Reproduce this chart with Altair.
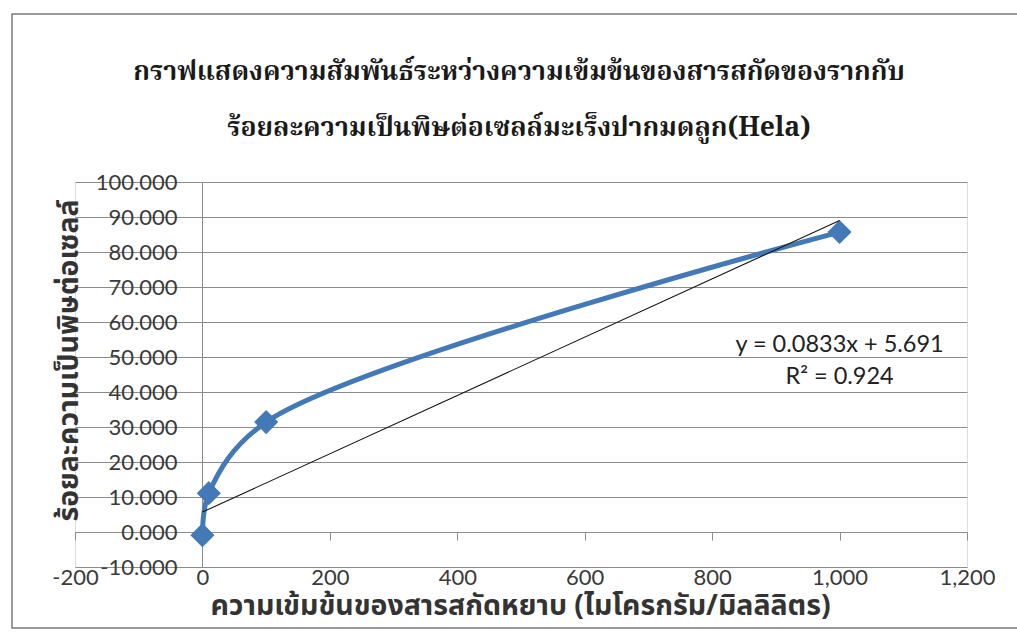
import altair as alt
import pandas as pd

# Concentration of crude root extract (µg/mL) vs. % cytotoxicity on HeLa cells
concentration = [0, 10, 100, 1000]
cytotoxicity = [-0.9, 11.1, 31.4, 85.7]

# Linear trendline as reported: y = 0.0833x + 5.691, R² = 0.924
slope = 0.0833
intercept = 5.691
trend_x = [0, 1000]
trend_y = [slope * v + intercept for v in trend_x]

eq_lines = ["y = 0.0833x + 5.691", "R² = 0.924"]
eq_pos = {"x": 1000, "y": 53.5}

x_ticks = [-200, 0, 200, 400, 600, 800, 1000, 1200]
y_ticks = [-10, 0, 10, 20, 30, 40, 50, 60, 70, 80, 90, 100]

title_lines = [
    "กราฟแสดงความสัมพันธ์ระหว่างความเข้มข้นของสารสกัดของรากกับ",
    "ร้อยละความเป็นพิษต่อเซลล์มะเร็งปากมดลูก(Hela)",
]
x_title = "ความเข้มข้นของสารสกัดหยาบ (ไมโครกรัม/มิลลิลิตร)"
y_title = "ร้อยละความเป็นพิษต่อเซลล์"

THAI_SANS = "Noto Sans Thai, Noto Sans, DejaVu Sans, sans-serif"
THAI_SERIF = "Noto Serif Thai, Noto Serif, DejaVu Serif, serif"
NUM_FONT = "Lato"
GRID = "#8c8c8c"
BLUE = "#4479b8"

points = pd.DataFrame({"conc": concentration, "tox": cytotoxicity})
trend = pd.DataFrame({"conc": trend_x, "tox": trend_y})
eq = pd.DataFrame({"conc": [eq_pos["x"]], "tox": [eq_pos["y"]], "label": [eq_lines]})
heading = pd.DataFrame({"label": [title_lines]})

x_scale = alt.Scale(domain=[-200, 1200], nice=False, zero=False)
y_scale = alt.Scale(domain=[-10, 100], nice=False, zero=False)

x_axis = alt.Axis(
    values=x_ticks, tickCount=20, format=",d", grid=False, offset=-35,
    labelOverlap=False, labelFlush=False,
    domainColor=GRID, tickColor=GRID, tickSize=8,
    labelFont=NUM_FONT, labelFontSize=22, labelColor="#3a3a3a", labelPadding=27,
    title=x_title, titleFont=THAI_SANS, titleFontSize=28.5, titleFontWeight="bold",
    titleColor="#333333", titleX=445, titleY=73, titleBaseline="middle",
)
y_axis = alt.Axis(
    values=y_ticks, tickCount=30, format=".3f", grid=True, gridColor=GRID, gridWidth=1,
    offset=-127, domainColor=GRID, ticks=False, labelOverlap=False, labelFlush=False,
    labelFont=NUM_FONT, labelFontSize=22, labelColor="#3a3a3a", labelPadding=25,
    title=y_title, titleFont=THAI_SANS, titleFontSize=28.5, titleFontWeight="bold",
    titleColor="#333333", titleX=-134, titleY=178, titleBaseline="middle", titleAngle=270,
)

base = alt.Chart(points).encode(
    x=alt.X("conc:Q", scale=x_scale, axis=x_axis),
    y=alt.Y("tox:Q", scale=y_scale, axis=y_axis),
)

series_line = base.mark_line(color=BLUE, strokeWidth=5, interpolate="catmull-rom")
series_pts = base.mark_point(shape="diamond", filled=True, size=580, color=BLUE, opacity=1)

trend_line = alt.Chart(trend).mark_line(color="#111111", strokeWidth=1.1).encode(
    x=alt.X("conc:Q", scale=x_scale), y=alt.Y("tox:Q", scale=y_scale)
)

eq_text = alt.Chart(eq).mark_text(
    font=NUM_FONT, fontSize=23.5, color="#222222", lineHeight=32, align="center", baseline="middle"
).encode(x=alt.X("conc:Q", scale=x_scale), y=alt.Y("tox:Q", scale=y_scale), text="label")

# two-line chart heading above the plot
title_text = alt.Chart(heading).mark_text(
    font=THAI_SERIF, fontSize=26.5, fontWeight="bold", color="#1a1a1a",
    lineHeight=56, align="center", baseline="middle", clip=False,
).encode(x=alt.value(444), y=alt.value(-110), text="label")

# outer chart frame
frame = alt.Chart(heading).mark_rect(
    fill=None, stroke="#7a7a7a", strokeWidth=1.5, clip=False
).encode(x=alt.value(-63), x2=alt.value(980), y=alt.value(-168), y2=alt.value(446))

chart = alt.layer(frame, title_text, series_line, series_pts, trend_line, eq_text).properties(
    width=892, height=385,
    padding={"left": 75, "top": 182, "right": 50, "bottom": 76},
    autosize=alt.AutoSizeParams(type="none"),
).configure_view(stroke=None).configure(
    background="white",
    locale={"number": {"decimal": ".", "thousands": ",", "grouping": [3],
                       "currency": ["$", ""], "minus": "-"}},
)

chart.save("out.html", embed_options={"renderer": "svg", "actions": False})
